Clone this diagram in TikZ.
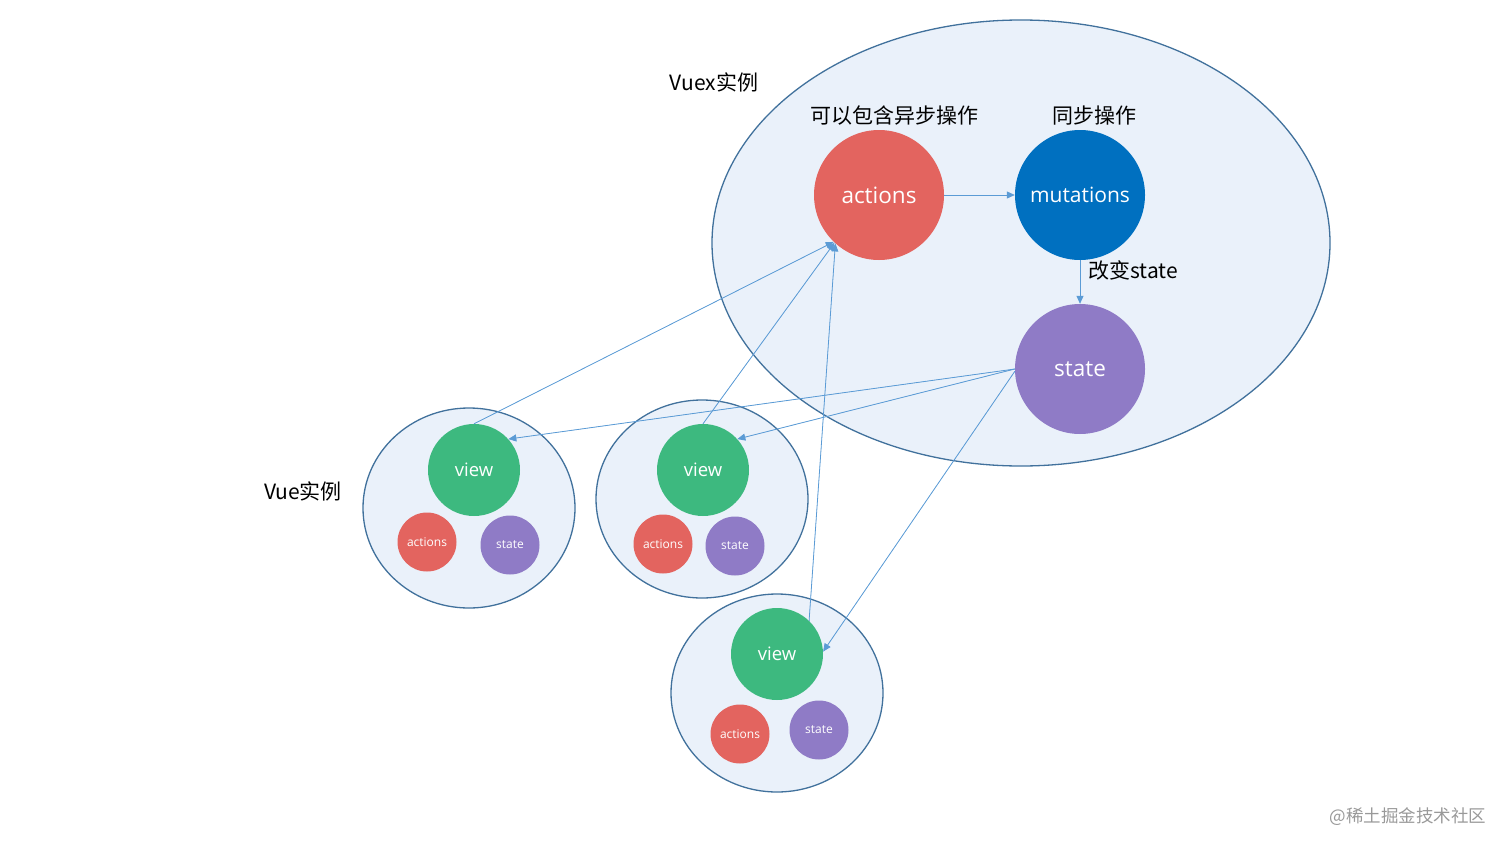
\documentclass[tikz,border=0pt]{standalone}
\usepackage{fontspec}
\setmainfont{Open Sans}
\newfontfamily\cjk{Noto Sans CJK SC}
\usetikzlibrary{arrows.meta,positioning,shapes.geometric}
\definecolor{instfill}{HTML}{EAF1FA}
\definecolor{instline}{HTML}{41719C}
\definecolor{actred}{HTML}{E3645F}
\definecolor{mutblue}{HTML}{0070C0}
\definecolor{statepurple}{HTML}{8F7BC6}
\definecolor{viewgreen}{HTML}{3DB97F}
\definecolor{arrowblue}{HTML}{5B9BD5}

\begin{document}
\begin{tikzpicture}[x=1pt,y=-1pt,>={Triangle[length=8pt,width=7pt]},every node/.style={inner sep=0pt}]
  \tikzset{inst/.style={ellipse,draw=instline,fill=instfill,line width=1.3pt},
           bigcirc/.style={circle,minimum size=130pt,text=white,font=\fontsize{22.5}{22.5}\selectfont},
           viewcirc/.style={circle,minimum size=92pt,fill=viewgreen,text=white,font=\fontsize{18.5}{18.5}\selectfont},
           smallcirc/.style={circle,minimum size=59pt,text=white,font=\fontsize{12}{12}\selectfont},
           label/.style={font=\cjk\fontsize{21}{21}\selectfont}}
  \useasboundingbox (0,0) rectangle (1512,851);

  % instances
  \node[inst,minimum width=618pt,minimum height=446pt] (vuex) at (1021,243) {};
  \node[inst,minimum width=212pt,minimum height=200pt] (vue1) at (469,508) {};
  \node[inst,minimum width=212pt,minimum height=198pt] (vue2) at (702,499) {};
  \node[inst,minimum width=212pt,minimum height=198pt] (vue3) at (777,693) {};

  % store
  \node[bigcirc,fill=actred]      (actions)   at (879,195)  {actions};
  \node[bigcirc,fill=mutblue,font=\fontsize{21}{21}\selectfont] (mutations) at (1080,195) {mutations};
  \node[bigcirc,fill=statepurple] (state)     at (1080,369) {state};

  % components
  \node[viewcirc] (view1) at (474,470) {view};
  \node[smallcirc,fill=actred]      (act1)   at (427,542) {actions};
  \node[smallcirc,fill=statepurple] (state1) at (510,545) {state};
  \node[viewcirc] (view2) at (703,470) {view};
  \node[smallcirc,fill=actred]      (act2)   at (663,544) {actions};
  \node[smallcirc,fill=statepurple] (state2) at (735,546) {state};
  \node[viewcirc] (view3) at (777,654) {view};
  \node[smallcirc,fill=actred]      (act3)   at (740,734) {actions};
  \node[smallcirc,fill=statepurple] (state3) at (819,730) {state};

  % labels
  \node[label] (vuexlbl) at (714,82)  {Vuex实例};
  \node[label] (asynclbl) at (894,116) {可以包含异步操作};
  \node[label] (synclbl) at (1094,116) {同步操作};
  \node[label] (vuelbl) at (303,491)  {Vue实例};
  \node[label] (changelbl) at (1133,270) {改变state};
  \node[font=\cjk\fontsize{17.5}{17.5}\selectfont,text=black!40] (mark) at (1408,817) {@稀土掘金技术社区};

  \tikzset{flow/.style={->,draw=arrowblue,fill=arrowblue,line width=0.8pt}}
  \path (actions.east)   edge [flow] (mutations.west)
        (mutations.south) edge [flow] (state.north)
        (state.180)      edge [flow] (view1.42)
        (state.180)      edge [flow] (view2.42)
        (state.182)      edge [flow] (view3.3)
        (view1.north)    edge [flow] (actions.226)
        (view2.north)    edge [flow] (actions.227)
        (view3.46)       edge [flow] (actions.228);
\end{tikzpicture}
\end{document}
